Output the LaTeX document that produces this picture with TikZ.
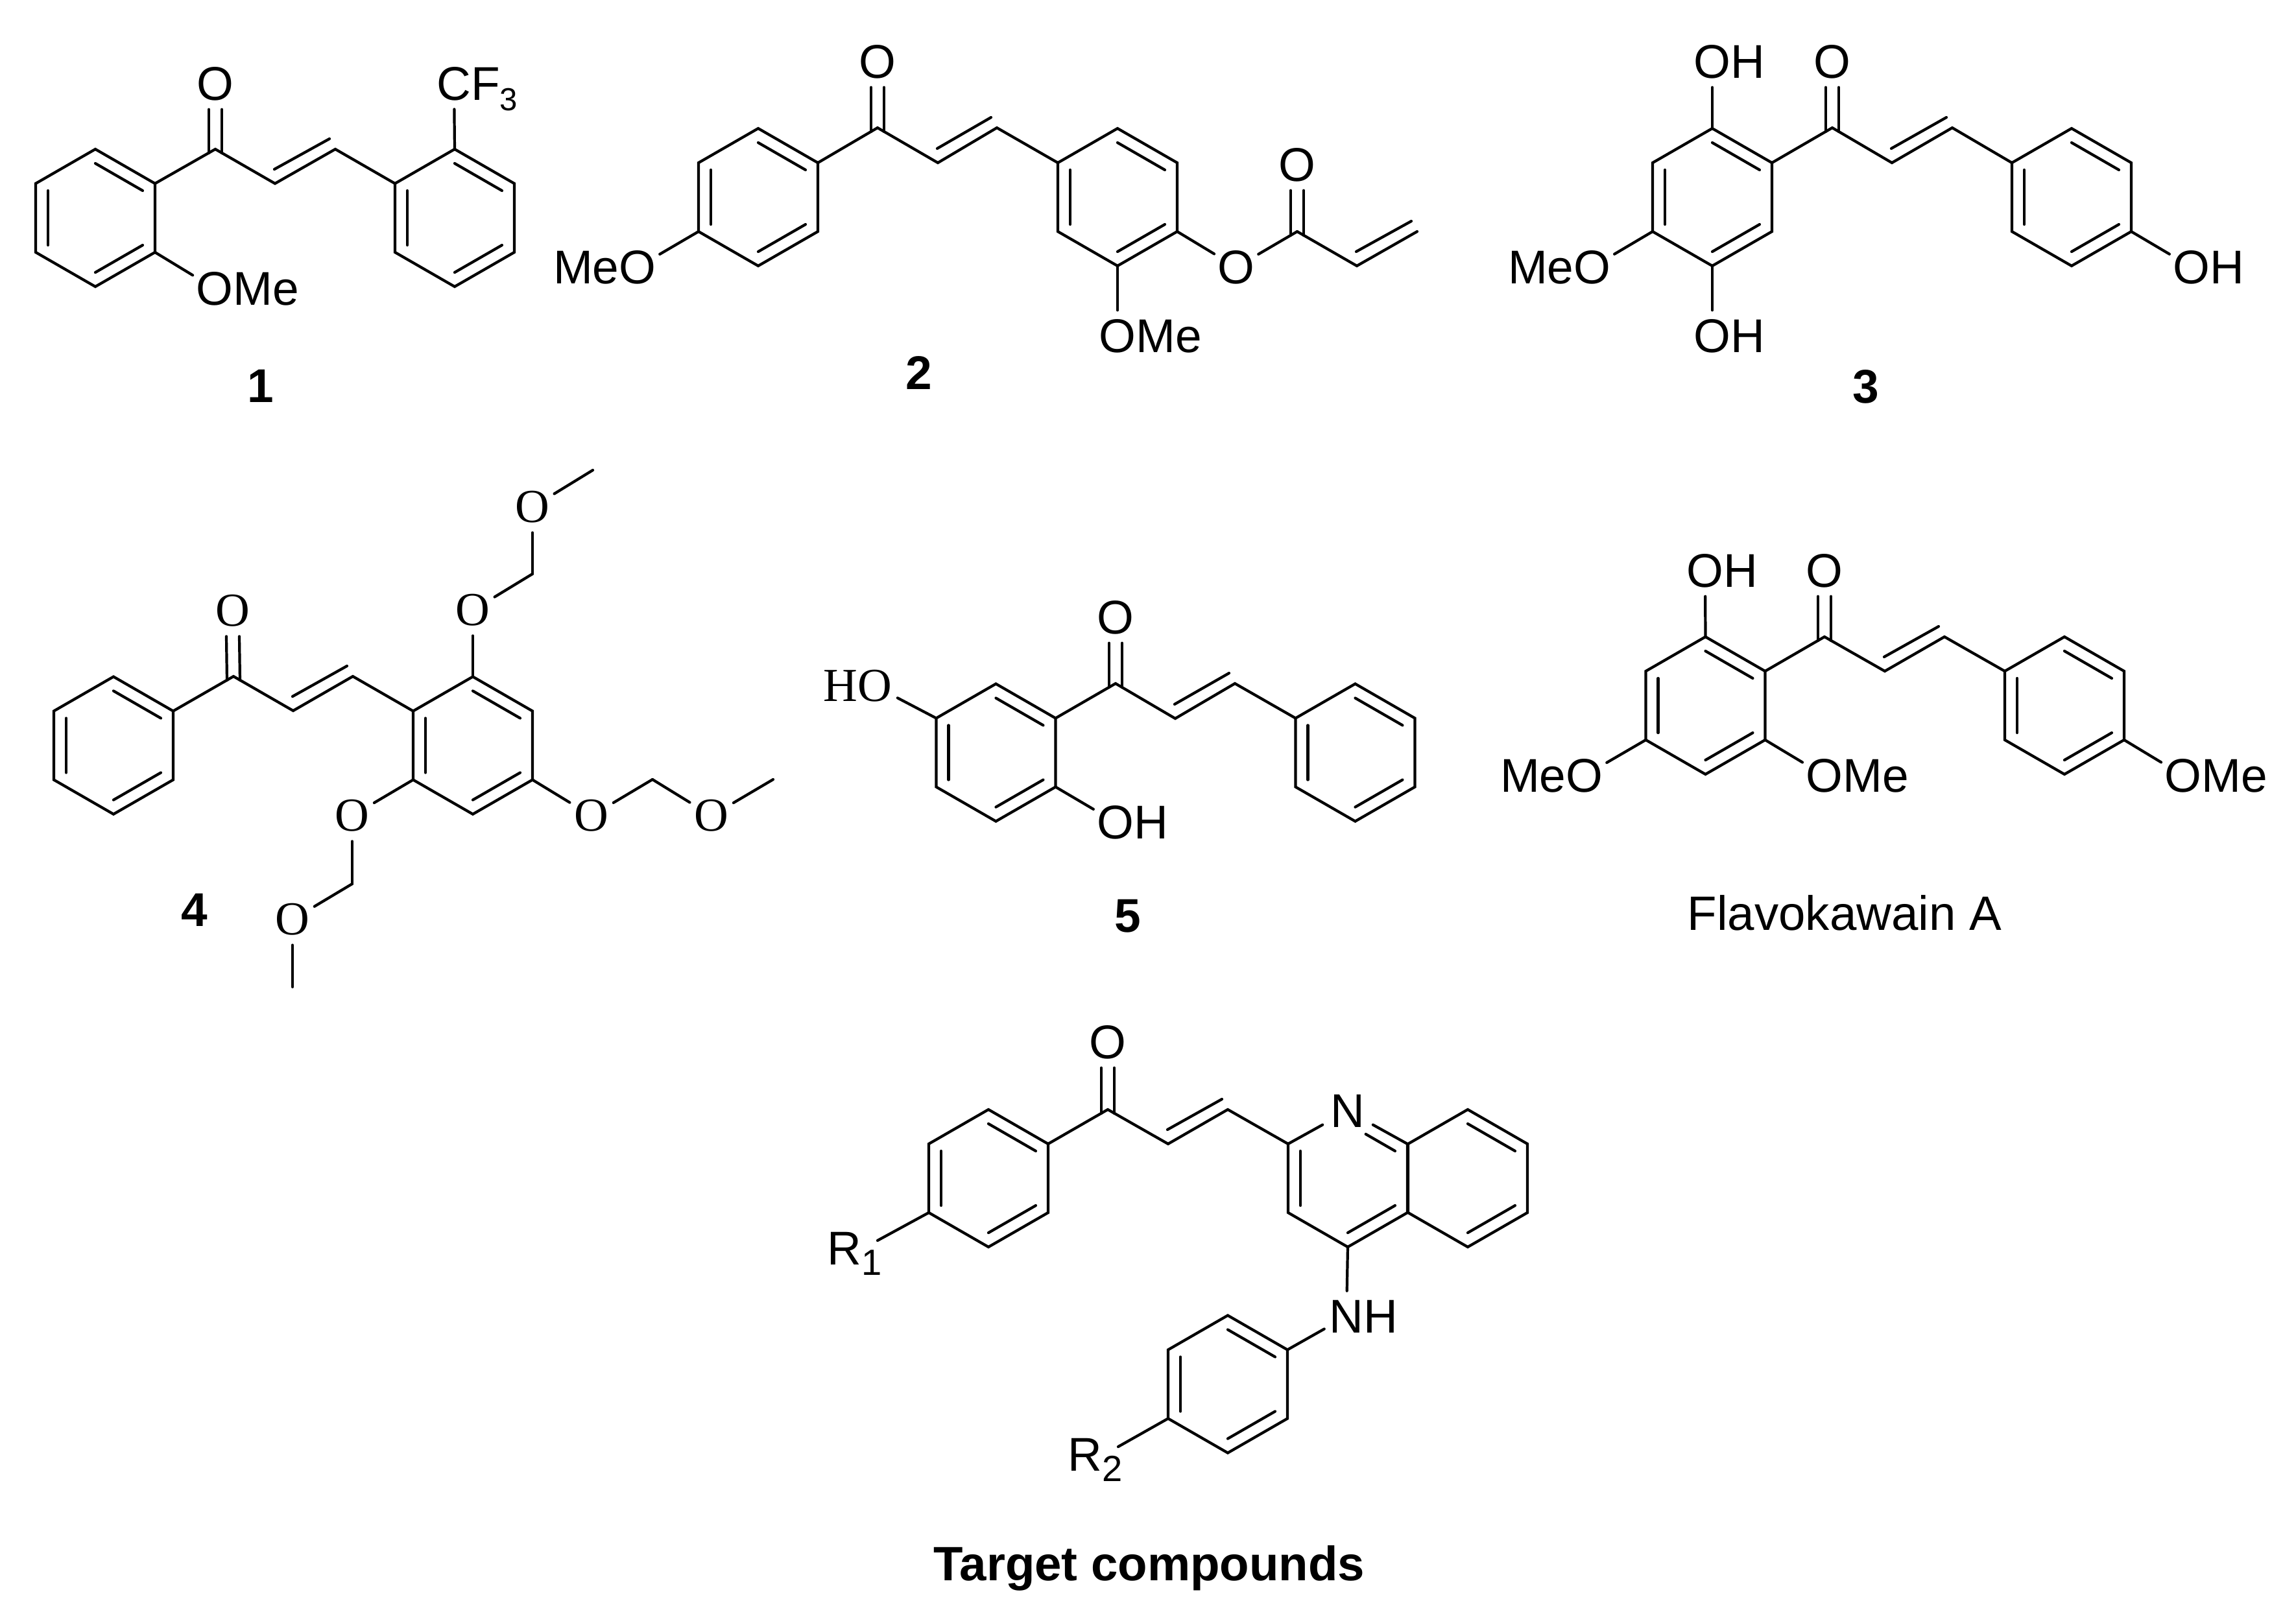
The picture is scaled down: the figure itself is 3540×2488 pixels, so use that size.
\documentclass[tikz,border=0pt]{standalone}
\usepackage{fontspec}
\setmainfont{Liberation Sans}
\newfontfamily\serifatom{Liberation Serif}
\usetikzlibrary{calc}

\tikzset{
    bond/.style={line width=0.6pt, line cap=round},
    atom/.style={circle, inner sep=0pt, minimum size=.38cm, font=\fontsize{10.4}{12}\selectfont},
    seratom/.style={atom, font=\fontsize{10.4}{12}\selectfont\serifatom},
    numlab/.style={inner sep=0pt, font=\fontsize{10.4}{12}\selectfont\bfseries},
    namelab/.style={inner sep=0pt, anchor=base, font=\fontsize{10.6}{12}\selectfont}
}

\newcommand{\hexpts}[3]{
    \coordinate (#10) at (#2,#3);
    \coordinate (#11) at (#2,#3-106);
    \coordinate (#12) at (#2+92,#3-53);
    \coordinate (#13) at (#2+92,#3+53);
    \coordinate (#14) at (#2,#3+106);
    \coordinate (#15) at (#2-92,#3+53);
    \coordinate (#16) at (#2-92,#3-53);
}
\newcommand{\ringin}[3]{\draw[bond] ($(#1#2)!0.207!(#10)$) -- ($(#1#3)!0.207!(#10)$);}
\newcommand{\hexring}[4]{
    \hexpts{#1}{#2}{#3}
    \draw[bond] (#11) -- (#12) -- (#13) -- (#14) -- (#15) -- (#16) -- cycle;
    \foreach \i/\j in {#4} {\ringin{#1}{\i}{\j}}
}
\newcommand{\alkene}[2]{\draw[bond] ($(#1)+(-1,-22)$) -- ($(#2)+(-9,-16)$);}
\newcommand{\keto}[2]{
    \draw[bond] ($(#1.south)+(-10,0)$) -- ($(#2)+(-10,6)$);
    \draw[bond] ($(#1.south)+(10,0)$) -- ($(#2)+(10,6)$);
}
\newcommand{\lowsub}[2]{\smash{\raisebox{-2.3pt}{\fontsize{#1}{#1}\selectfont #2}}}

\begin{document}
\begin{tikzpicture}[x=0.005cm, y=-0.005cm]
        \useasboundingbox (0,0) rectangle (3540,2488);

        % 1
        \hexring{ca}{147}{336}{1/2,3/4,5/6}
        \hexring{cb}{701}{336}{1/2,3/4,5/6}
        \coordinate (cc) at (332,230);
        \coordinate (cd) at (424,283);
        \coordinate (ce) at (517,230);
        \node[atom] (co) at (332,129) {O};
        \node[atom] (cf) at (700,129) {C\rlap{F\lowsub{7}{3}}};
        \node[atom] (cm) at (331,445) {O\rlap{Me}};
        \node[numlab] (lab1) at (402,595) {1};
        \draw[bond] (ca2) -- (cc) -- (cd) -- (ce) -- (cb6);
        \alkene{cd}{ce}
        \keto{co}{cc}
        \draw[bond] (cb1) -- (cf);
        \draw[bond] (ca3) -- (cm);

        % 2
        \hexring{da}{1169}{304}{1/2,3/4,5/6}
        \hexring{db}{1723}{304}{1/2,3/4,5/6}
        \coordinate (dc) at (1353,197);
        \coordinate (dd) at (1446,251);
        \coordinate (de) at (1537,197);
        \coordinate (df) at (2000,357);
        \coordinate (dg) at (2092,410);
        \coordinate (dh) at (2185,357);
        \node[atom] (do) at (1353,95) {O};
        \node[atom] (dp) at (2000,254) {O};
        \node[atom] (dq) at (1906,412) {O};
        \node[atom] (dm) at (1723,518) {O\rlap{Me}};
        \node[atom] (dn) at (983,412) {\llap{Me}O};
        \node[numlab] (lab2) at (1417,575) {2};
        \draw[bond] (da2) -- (dc) -- (dd) -- (de) -- (db6);
        \alkene{dd}{de}
        \keto{do}{dc}
        \keto{dp}{df}
        \draw[bond] (da5) -- (dn);
        \draw[bond] (db4) -- (dm);
        \draw[bond] (db3) -- (dq);
        \draw[bond] (dq) -- (df);
        \draw[bond] (df) -- (dg) -- (dh);
        \alkene{dg}{dh}

        % 3
        \hexring{ea}{2640}{304}{1/2,3/4,5/6}
        \hexring{eb}{3194}{304}{1/2,3/4,5/6}
        \coordinate (ec) at (2825,197);
        \coordinate (ed) at (2917,251);
        \coordinate (ee) at (3010,197);
        \node[atom] (eo) at (2825,95) {O};
        \node[atom] (eh) at (2640,95) {O\rlap{H}};
        \node[atom] (ei) at (2640,518) {O\rlap{H}};
        \node[atom] (ej) at (3379,412) {O\rlap{H}};
        \node[atom] (em) at (2455,412) {\llap{Me}O};
        \node[numlab] (lab3) at (2877,596) {3};
        \draw[bond] (ea2) -- (ec) -- (ed) -- (ee) -- (eb6);
        \alkene{ed}{ee}
        \keto{eo}{ec}
        \draw[bond] (ea1) -- (eh);
        \draw[bond] (ea4) -- (ei);
        \draw[bond] (ea5) -- (em);
        \draw[bond] (eb3) -- (ej);

        % 4
        \hexring{fa}{175}{1149.5}{1/2,3/4,5/6}
        \hexring{fb}{729}{1149.5}{1/2,3/4,5/6}
        \coordinate (fc) at (360,1043);
        \coordinate (fd) at (452,1096);
        \coordinate (fe) at (544,1043);
        \coordinate (fg) at (821,885);
        \coordinate (fh) at (914,725);
        \coordinate (fi) at (1006,1202);
        \coordinate (fj) at (1192,1202);
        \coordinate (fk) at (543,1363);
        \coordinate (fl) at (451,1522);
        \node[seratom] (fo) at (359,942) {O};
        \node[seratom] (fp) at (729,941) {O};
        \node[seratom] (fq) at (821,782) {O};
        \node[seratom] (fr) at (912,1258) {O};
        \node[seratom] (fs) at (1097,1258) {O};
        \node[seratom] (ft) at (543,1258) {O};
        \node[seratom] (fu) at (451,1418) {O};
        \node[numlab] (lab4) at (300,1403) {4};
        \draw[bond] (fa2) -- (fc) -- (fd) -- (fe) -- (fb6);
        \alkene{fd}{fe}
        \keto{fo}{fc}
        \draw[bond] (fb1) -- (fp);
        \draw[bond] (fp) -- (fg);
        \draw[bond] (fg) -- (fq);
        \draw[bond] (fq) -- (fh);
        \draw[bond] (fb3) -- (fr);
        \draw[bond] (fr) -- (fi);
        \draw[bond] (fi) -- (fs);
        \draw[bond] (fs) -- (fj);
        \draw[bond] (fb5) -- (ft);
        \draw[bond] (ft) -- (fk);
        \draw[bond] (fk) -- (fu);
        \draw[bond] (fu) -- (fl);

        % 5
        \hexring{ga}{1535.5}{1160.5}{1/2,3/4,5/6}
        \hexring{gb}{2089.5}{1160.5}{1/2,3/4,5/6}
        \coordinate (gc) at (1720,1054);
        \coordinate (gd) at (1812,1108);
        \coordinate (ge) at (1904,1054);
        \node[atom] (go) at (1720,952) {O};
        \node[seratom] (gh) at (1349,1058) {\llap{H}O};
        \node[atom] (gi) at (1720,1268) {O\rlap{H}};
        \node[numlab] (lab5) at (1739,1413) {5};
        \draw[bond] (ga2) -- (gc) -- (gd) -- (ge) -- (gb6);
        \alkene{gd}{ge}
        \keto{go}{gc}
        \draw[bond] (ga6) -- (gh);
        \draw[bond] (ga3) -- (gi);

        % Flavokawain A
        \hexring{ka}{2629.5}{1088}{1/2,3/4,5/6}
        \hexring{kb}{3183}{1088}{1/2,3/4,5/6}
        \coordinate (kc) at (2813,982);
        \coordinate (kd) at (2906,1035);
        \coordinate (ke) at (2998,982);
        \node[atom] (ko) at (2813,880) {O};
        \node[atom] (kh) at (2629,880) {O\rlap{H}};
        \node[atom] (km) at (2443,1196) {\llap{Me}O};
        \node[atom] (kn) at (2813,1196) {O\rlap{Me}};
        \node[atom] (kp) at (3366,1196) {O\rlap{Me}};
        \node[namelab] (labk) at (2844,1434) {Flavokawain A};
        \draw[bond] (ka2) -- (kc) -- (kd) -- (ke) -- (kb6);
        \alkene{kd}{ke}
        \keto{ko}{kc}
        \draw[bond] (ka1) -- (kh);
        \draw[bond] (ka5) -- (km);
        \draw[bond] (ka3) -- (kn);
        \draw[bond] (kb3) -- (kp);

        % target
        \hexring{ta}{1524}{1817}{1/2,3/4,5/6}
        \hexring{tc}{1893}{2134.5}{1/2,3/4,5/6}
        \hexring{tb}{2263}{1817}{1/2,3/4}
        \hexpts{tp}{2078}{1817}
        \coordinate (tq) at ($(tp1)!0.207!(tp0)$);
        \coordinate (tr) at ($(tp2)!0.207!(tp0)$);
        \coordinate (ts) at (1708,1711);
        \coordinate (tt) at (1801,1764);
        \coordinate (tu) at (1893,1711);
        \coordinate (tv) at (1353,1913);
        \coordinate (tw) at (1724,2231);
        \node[atom] (to) at (1708,1607) {O};
        \node[atom, minimum size=.43cm] (tn) at (2078,1713) {N};
        \node[atom] (th) at (2076,2030) {N\rlap{H}};
        \node[atom] (tx) at (1302,1925) {R\rlap{\lowsub{8}{1}}};
        \node[atom] (ty) at (1673,2243) {R\rlap{\lowsub{8}{2}}};
        \node[namelab, font=\fontsize{10.6}{12}\selectfont\bfseries] (labt) at (1772,2437) {Target compounds};
        \draw[bond] (ta2) -- (ts) -- (tt) -- (tu) -- (tp6);
        \alkene{tt}{tu}
        \keto{to}{ts}
        \draw[bond] (tn) -- (tp2) -- (tp3) -- (tp4) -- (tp5) -- (tp6) -- (tn);
        \draw[bond] ($(tq)!0.38!(tr)$) -- (tr);
        \ringin{tp}{3}{4}
        \ringin{tp}{5}{6}
        \draw[bond] (tp4) -- (th);
        \draw[bond] (tc2) -- (th);
        \draw[bond] (ta5) -- (tv);
        \draw[bond] (tc5) -- (tw);
\end{tikzpicture}
\end{document}
